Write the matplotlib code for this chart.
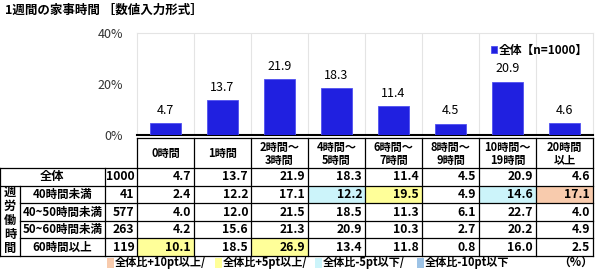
# 1週間の家事時間 — 棒グラフ + クロス集計表
import matplotlib
matplotlib.use("Agg")
import matplotlib.pyplot as plt
from matplotlib.patches import Rectangle

plt.rcParams["font.family"] = ["Noto Sans CJK JP", "DejaVu Sans"]

# --- データ ---
categories = ["0時間", "1時間", "2時間～\n3時間", "4時間～\n5時間", "6時間～\n7時間",
              "8時間～\n9時間", "10時間～\n19時間", "20時間\n以上"]
total = [4.7, 13.7, 21.9, 18.3, 11.4, 4.5, 20.9, 4.6]

row_labels = ["40時間未満", "40~50時間未満", "50~60時間未満", "60時間以上"]
row_n = [41, 577, 263, 119]
row_values = [
    [2.4, 12.2, 17.1, 12.2, 19.5, 4.9, 14.6, 17.1],
    [4.0, 12.0, 21.5, 18.5, 11.3, 6.1, 22.7, 4.0],
    [4.2, 15.6, 21.3, 20.9, 10.3, 2.7, 20.2, 4.9],
    [10.1, 18.5, 26.9, 13.4, 11.8, 0.8, 16.0, 2.5],
]
total_n = 1000

# 色分け（全体比）
C_P10, C_P5, C_M5, C_M10 = "#F8CBAD", "#FFFF99", "#CCF4FA", "#9DC3E6"


def cell_color(v, base):
    d = v - base
    if d >= 10:
        return C_P10
    if d >= 5:
        return C_P5
    if d <= -10:
        return C_M10
    if d <= -5:
        return C_M5
    return None


W, H = 600, 270
fig = plt.figure(figsize=(6, 2.7), dpi=100)
fig.patch.set_facecolor("white")

# --- 棒グラフ ---
x0, x1, ytop, ybot = 137, 593, 33, 135
ax = fig.add_axes([x0 / W, 1 - ybot / H, (x1 - x0) / W, (ybot - ytop) / H])
xs = range(len(total))
ax.bar(xs, total, width=0.56, color="#2020E0", edgecolor="#5050F0", linewidth=0.6,
       label="全体【n=1000】", zorder=3)
for i, v in enumerate(total):
    ax.text(i, v + 2.5, f"{v:.1f}", ha="center", va="bottom", fontsize=9)
ax.set_xlim(-0.5, len(total) - 0.5)
ax.set_ylim(0, 40)
ax.set_yticks([0, 20, 40])
ax.set_yticklabels(["0%", "20%", "40%"], fontsize=9, color="#333333")
ax.set_xticks([])
ax.set_xticks([i + 0.5 for i in range(len(total) - 1)], minor=True)
ax.tick_params(axis="x", which="minor", length=0)
ax.tick_params(axis="y", length=0, pad=10)
ax.grid(axis="x", which="minor", color="#e4e4e4", linewidth=0.8, zorder=0)
for s in ["top", "left", "right"]:
    ax.spines[s].set_color("#e4e4e4")
    ax.spines[s].set_linewidth(0.8)
ax.spines["bottom"].set_color("black")
ax.spines["bottom"].set_linewidth(1.5)
ax.legend(loc="upper right", bbox_to_anchor=(1.0, 0.94), frameon=False,
          handlelength=0.5, handleheight=0.5, handletextpad=0.2, borderaxespad=0,
          prop={"weight": "bold", "size": 8.5})

# --- 表 ---
tx = fig.add_axes([0, 0, 1, 1])
tx.set_xlim(0, W)
tx.set_ylim(H, 0)
tx.axis("off")

col_edges = [137 + 57 * k for k in range(9)]
hdr_top, hdr_bot = 138, 168
row_h = 17.6
row_edges = [hdr_bot + row_h * k for k in range(6)]
fs = 8.8
lw = 0.9

# 色付きセル
for r, vals in enumerate(row_values):
    for c, v in enumerate(vals):
        col = cell_color(v, total[c])
        if col:
            tx.add_patch(Rectangle((col_edges[c], row_edges[r + 1]), 57, row_h,
                                   facecolor=col, edgecolor="none", zorder=1))

# 見出し行
for c, lab in enumerate(categories):
    tx.text(col_edges[c] + 28.5, (hdr_top + hdr_bot) / 2 + 0.5, lab, ha="center", va="center",
            fontsize=8, fontweight="bold", linespacing=1.0, zorder=3)
tx.plot([col_edges[0], col_edges[-1]], [hdr_top, hdr_top], color="black", lw=lw, zorder=2)
for xe in col_edges:
    tx.plot([xe, xe], [hdr_top, row_edges[-1]], color="black", lw=lw, zorder=2)

# 横線
for k, ye in enumerate(row_edges):
    left = 0 if k in (0, 1, 5) else 20
    tx.plot([left, col_edges[-1]], [ye, ye], color="black", lw=lw, zorder=2)
for xe in (0, 105):
    tx.plot([xe, xe], [row_edges[0], row_edges[-1]], color="black", lw=lw, zorder=2)
tx.plot([20, 20], [row_edges[1], row_edges[-1]], color="black", lw=lw, zorder=2)

# 全体行
yc = (row_edges[0] + row_edges[1]) / 2
tx.text(52, yc, "全体", ha="center", va="center", fontsize=fs, fontweight="bold")
tx.text(134.5, yc, str(total_n), ha="right", va="center", fontsize=fs, fontweight="bold")
for c, v in enumerate(total):
    tx.text(col_edges[c + 1] - 3, yc, f"{v:.1f}", ha="right", va="center", fontsize=fs,
            fontweight="bold", zorder=3)

# 属性行
for r, lab in enumerate(row_labels):
    yc = (row_edges[r + 1] + row_edges[r + 2]) / 2
    tx.text(62.5, yc, lab, ha="center", va="center", fontsize=8.3, fontweight="bold")
    tx.text(134.5, yc, str(row_n[r]), ha="right", va="center", fontsize=fs, fontweight="bold")
    for c, v in enumerate(row_values[r]):
        tx.text(col_edges[c + 1] - 3, yc, f"{v:.1f}", ha="right", va="center", fontsize=fs,
                fontweight="bold", zorder=3)

# 縦書き「週労働時間」
vstep = (row_edges[-1] - row_edges[1]) / 5
for k, ch in enumerate("週労働時間"):
    tx.text(10, row_edges[1] + vstep * (k + 0.5), ch, ha="center", va="center",
            fontsize=fs, fontweight="bold")

# タイトル
tx.text(5, 10, "1週間の家事時間 ［数値入力形式］", ha="left", va="center",
        fontsize=9, fontweight="bold")

# 凡例（表）
ly = 262.5
items = [(107, C_P10, "全体比+10pt以上/"), (215, C_P5, "全体比+5pt以上/"),
         (315, C_M5, "全体比-5pt以下/"), (417, C_M10, "全体比-10pt以下")]
for xs_, col, lab in items:
    tx.add_patch(Rectangle((xs_, ly - 5), 7, 10, facecolor=col, edgecolor="none"))
    tx.text(xs_ + 8, ly, lab, ha="left", va="center", fontsize=8, fontweight="bold")
tx.text(593, ly, "（%）", ha="right", va="center", fontsize=8.5, fontweight="bold")

fig.savefig("out.png", dpi=100)
